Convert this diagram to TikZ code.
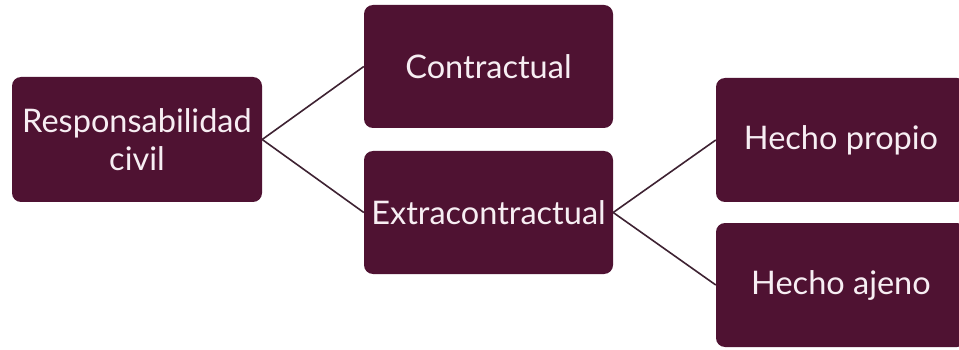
\documentclass[tikz,border=0pt]{standalone}
\usepackage{fontspec}
\setmainfont{Lato}
\definecolor{boxfill}{HTML}{4F1232}
\definecolor{boxtext}{HTML}{F7EEF3}
\definecolor{linec}{HTML}{3E2232}
\begin{document}
\begin{tikzpicture}[x=1pt,y=-1pt,
  boxst/.style={fill=boxfill,rounded corners=9pt,inner sep=0pt,text=boxtext,
    font=\fontsize{32.5}{38}\selectfont,align=center},
  link/.style={draw=linec,line width=1.6pt}]
\useasboundingbox[fill=white] (0,0) rectangle (959,350);
\node[boxst,minimum width=250pt,minimum height=125pt] (rc) at (137,139.5) {Responsabilidad\\civil};
\node[boxst,minimum width=249pt,minimum height=123pt] (co) at (488.5,66.5) {Contractual};
\node[boxst,minimum width=249pt,minimum height=123pt] (ex) at (488.5,212.5) {Extracontractual};
\node[boxst,minimum width=250pt,minimum height=124pt] (hp) at (841,140) {Hecho propio};
\node[boxst,minimum width=250pt,minimum height=124pt] (ha) at (841,285) {Hecho ajeno};
\draw[link] (rc.east) -- (co.west);
\draw[link] (rc.east) -- (ex.west);
\draw[link] (ex.east) -- (hp.west);
\draw[link] (ex.east) -- (ha.west);
\end{tikzpicture}
\end{document}
